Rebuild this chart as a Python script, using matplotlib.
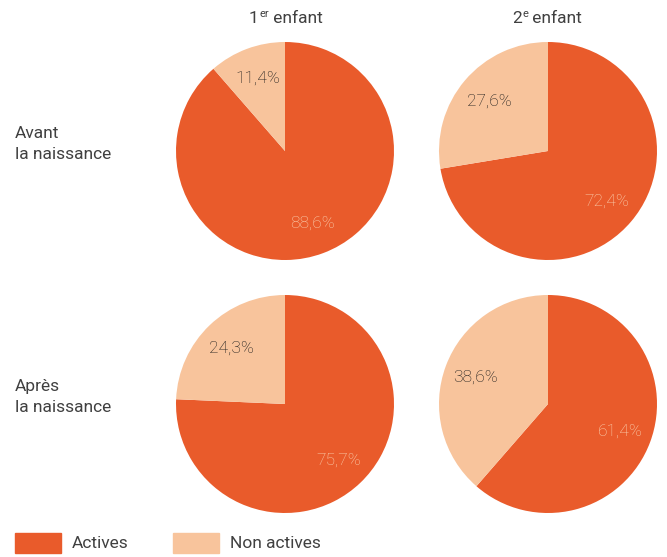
import matplotlib
matplotlib.use("Agg")
import matplotlib.pyplot as plt
from matplotlib.patches import Rectangle

plt.rcParams['font.family'] = ['Roboto', 'DejaVu Sans']

categories = ['Actives', 'Non actives']
col_titles = [('1', 'er', ' enfant'), ('2', 'e', ' enfant')]
row_titles = ['Avant\nla naissance', 'Après\nla naissance']
values = [
    [[88.6, 11.4], [72.4, 27.6]],
    [[75.7, 24.3], [61.4, 38.6]],
]
colors = ['#E95B2B', '#F8C49C']
label_colors = ['#FAD0B0', '#1a1a1a']
text_color = '#404040'
fs = 12.5

W, H = 667, 557
fig = plt.figure(figsize=(W / 100, H / 100), dpi=100)

centers_x = [285, 548]
centers_y = [151, 404]
radius = 109

for r in range(2):
    for c in range(2):
        cx, cy = centers_x[c], centers_y[r]
        ax = fig.add_axes([(cx - radius) / W, 1 - (cy + radius) / H,
                           2 * radius / W, 2 * radius / H])
        vals = values[r][c]
        wedges, texts, autotexts = ax.pie(
            vals, colors=colors, startangle=90, counterclock=False,
            autopct=lambda p: ('%.1f%%' % p).replace('.', ','),
            pctdistance=0.71, radius=1,
            wedgeprops=dict(linewidth=0))
        for t, lc in zip(autotexts, label_colors):
            t.set_color(lc)
            t.set_fontsize(fs)
            t.set_fontweight('light')
        ax.set_xlim(-1, 1)
        ax.set_ylim(-1, 1)
        ax.set_aspect('equal')

# column titles with superscript
renderer = fig.canvas.get_renderer()
for c, (num, sup, rest) in enumerate(col_titles):
    x0 = centers_x[c] - 36
    base_y = 1 - 23 / H
    t1 = fig.text(x0 / W, base_y, num, fontsize=fs, color=text_color,
                  va='baseline', ha='left')
    bb = t1.get_window_extent(renderer)
    t2 = fig.text((bb.x1 + 0.5) / W, 1 - 9 / H, sup, fontsize=8,
                  color=text_color, va='top', ha='left')
    bb2 = t2.get_window_extent(renderer)
    fig.text(bb2.x1 / W, base_y, rest, fontsize=fs, color=text_color,
             va='baseline', ha='left')

for r, title in enumerate(row_titles):
    fig.text(15 / W, 1 - (centers_y[r] - 7) / H, title, fontsize=fs,
             color=text_color, va='center', ha='left', linespacing=1.45)

# legend
leg_x = [15, 173]
for x, cat, col in zip(leg_x, categories, colors):
    fig.patches.append(Rectangle((x / W, 1 - 553 / H), 46 / W, 20 / H,
                                 transform=fig.transFigure, color=col))
    fig.text((x + 57) / W, 1 - 544 / H, cat, fontsize=fs,
             color=text_color, va='center', ha='left')

fig.savefig('out.png', dpi=100, facecolor='white')
